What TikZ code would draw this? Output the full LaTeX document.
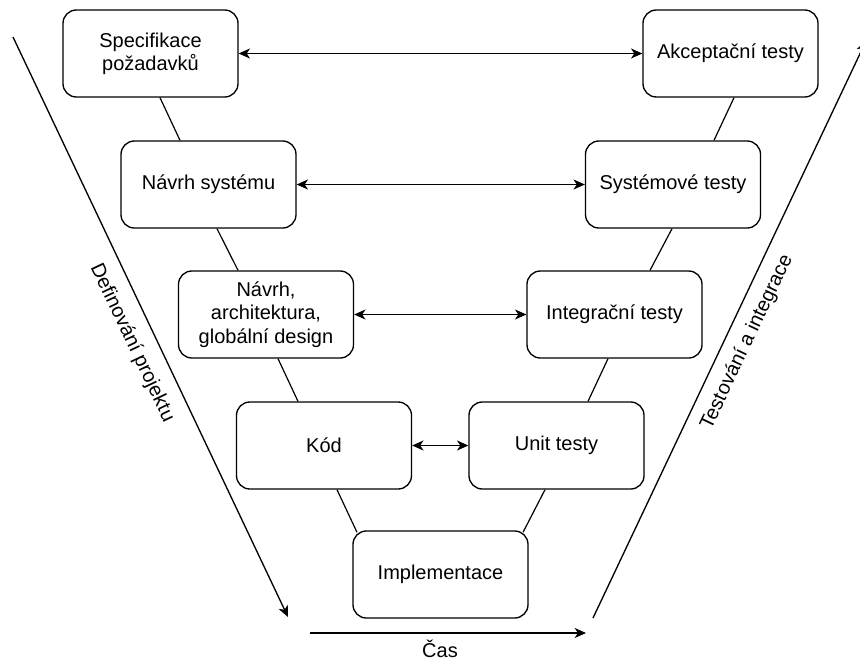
\documentclass[tikz,border=0pt]{standalone}
\usepackage{fontspec}
\setmainfont{Liberation Sans}
\usetikzlibrary{arrows.meta,calc,backgrounds}

\begin{document}
\begin{tikzpicture}[x=0.75pt,y=-0.75pt,
  phase/.style={draw, line width=1pt, rounded corners=10pt, fill=white,
    minimum width=131.25pt, minimum height=65.25pt, inner sep=2pt,
    align=center, font=\fontsize{15pt}{17.5pt}\selectfont},
  link/.style={line width=0.9pt},
  head/.style={Stealth[length=8.5pt,width=7.5pt,inset=2.5pt]},
  tip/.style={line width=1pt, -{Stealth[length=8.5pt,width=7.5pt,inset=2.5pt]}},
  biarrow/.style={line width=1pt, {Stealth[length=8.5pt,width=7.5pt,inset=2.5pt]}-{Stealth[length=8.5pt,width=7.5pt,inset=2.5pt]}},
  lbl/.style={font=\fontsize{15pt}{17.5pt}\selectfont, inner sep=0pt}]

\useasboundingbox (0,0) rectangle (860,661);

% left branch of the V
\node[phase] (spec) at (150.5,53.5) {Specifikace\\požadavků};
\node[phase] (nsys) at (208.5,184.5) {Návrh systému};
\node[phase] (arch) at (266,314.5) {Návrh,\\architektura,\\globální design};
\node[phase] (kod)  at (324,445.5) {Kód};

% bottom
\node[phase] (impl) at (440.5,574.5) {Implementace};

% right branch of the V
\node[phase] (akc)  at (730.5,53.5) {Akceptační testy};
\node[phase] (sys)  at (673,184.5) {Systémové testy};
\node[phase] (integ) at (614.5,314.5) {Integrační testy};
\node[phase] (unit) at (556.5,445.5) {Unit testy};

% links between consecutive phases
\begin{scope}[on background layer]
  \draw[link] ($(spec.south)+(9.5,0)$) -- ($(nsys.north)+(-28.5,0)$);
  \draw[link] ($(nsys.south)+(8.5,0)$) -- ($(arch.north)+(-28,0)$);
  \draw[link] ($(arch.south)+(12,0)$) -- ($(kod.north)+(-26,0)$);
  \draw[link] ($(kod.south)+(13,0)$) -- ($(impl.north)+(-83.5,2)$);
  \draw[link] ($(akc.south)+(3.5,0)$) -- ($(sys.north)+(41,0)$);
  \draw[link] ($(sys.south)+(-1,0)$) -- ($(integ.north)+(35.5,0)$);
  \draw[link] ($(integ.south)+(-6.5,0)$) -- ($(unit.north)+(31.5,0)$);
  \draw[link] ($(unit.south)+(-11.5,0)$) -- ($(impl.north)+(82.5,2)$);
\end{scope}

% verification pairs
\draw[biarrow] (spec) -- (akc);
\draw[biarrow] (nsys) -- (sys);
\draw[biarrow] (arch) -- (integ);
\draw[biarrow] (kod) -- (unit);

% side axes
\coordinate (dtop) at (13,37);
\coordinate (dbot) at (288,617);
\coordinate (tbot) at (593,618);
\coordinate (ttop) at (866,41);
\draw[tip] (dtop) -- (dbot);
\draw[tip] (tbot) -- (ttop);
\node[lbl, rotate=-64.6] (defl) at (132,343) {Definování projektu};
\node[lbl, rotate=64.6] (testl) at (747,342) {Testování a integrace};

% time axis
\coordinate (cas0) at (310,633);
\coordinate (cas1) at (586,633);
\draw[tip] (cas0) -- (cas1);
\node[lbl] (casl) at (440,649) {Čas};

\end{tikzpicture}
\end{document}
